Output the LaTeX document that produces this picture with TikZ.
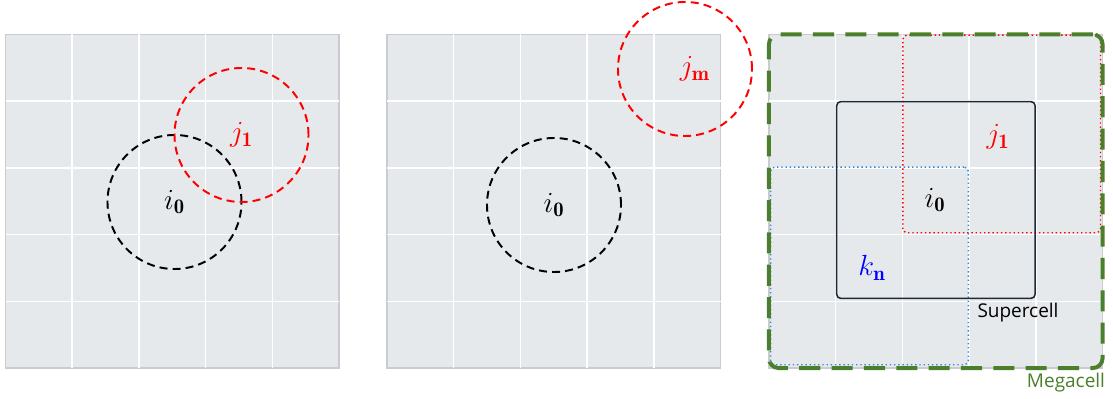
\documentclass[tikz,border=0pt]{standalone}
\usepackage{amsmath}
\usepackage{fontspec}
\usepackage{tikz}
\usetikzlibrary{positioning, calc}
\newfontfamily\labelfont{Open Sans}
\definecolor{cellgray}{HTML}{E6E9EC}
\definecolor{edgegray}{HTML}{C9CBCE}
\definecolor{megagreen}{HTML}{4B7F2B}
\definecolor{supernavy}{HTML}{1B2A38}
\definecolor{dotblue}{HTML}{2B8AD6}

\begin{document}
\begin{tikzpicture}[
    x=0.025cm, y=-0.025cm,
    panel/.style={fill=cellgray, draw=edgegray, line width=0.8pt},
    gridline/.style={white, line width=1pt},
    ring/.style={circle, minimum size=3.35cm, inner sep=0pt, line width=1.4pt, dash pattern=on 5.7pt off 3.6pt, font=\fontsize{21}{25}\selectfont},
    mathlabel/.style={font=\fontsize{21}{25}\selectfont},
    region/.style={rectangle, inner sep=0pt, line width=1pt, rounded corners=3pt},
]
\useasboundingbox (0,0) rectangle (1113,399);

% three 5x5 panels
\foreach \px in {5.5, 387, 769} {
    \draw[panel] (\px,34.5) rectangle ++(333.5,333.5);
    \foreach \k in {1,...,4} {
        \draw[gridline] (\px+\k*66.7,34.5) -- ++(0,333.5);
        \draw[gridline] (\px,34.5+\k*66.7) -- ++(333.5,0);
    }
}

% panel 1: overlapping neighbour
\node[ring, draw=black] (ia) at (174.5,202) {$i_{\mathbf{0}}$};
\node[ring, draw=red, text=red] (ja) at (241.5,135) {$j_{\mathbf{1}}$};

% panel 2: distant neighbour
\node[ring, draw=black] (ib) at (554,205) {$i_{\mathbf{0}}$};
\node[ring, draw=red, text=red] (jb) at (685,69) {\hspace{14pt}$j_{\mathbf{m}}$};

% panel 3: supercell and megacell
\node[region, draw=red, dotted, minimum width=4.94cm, minimum height=4.94cm] (jreg) at (1001.7,133.9) {};
\node[region, draw=dotblue, dotted, minimum width=4.94cm, minimum height=4.94cm] (kreg) at (869.5,265.9) {};
\node[region, draw=supernavy, line width=1.1pt, minimum width=4.96cm, minimum height=4.92cm] (super) at (935.9,200) {};
\node[region, draw=megagreen, line width=2.8pt, dash pattern=on 15pt off 8pt, rounded corners=7pt, minimum width=8.34cm, minimum height=8.34cm] (mega) at (935.75,201.25) {};

\node[mathlabel] (ic) at (935,200) {$i_{\mathbf{0}}$};
\node[mathlabel, text=red] (jc) at (998,137) {$j_{\mathbf{1}}$};
\node[mathlabel, text=blue] (kc) at (872,268) {$k_{\mathbf{n}}$};

\node[font=\labelfont\fontsize{13.5}{16}\selectfont] (superlbl) at (1018,313) {Supercell};
\node[font=\labelfont\fontsize{13.5}{16}\selectfont, text=megagreen] (megalbl) at (1066,383) {Megacell};

\end{tikzpicture}
\end{document}
